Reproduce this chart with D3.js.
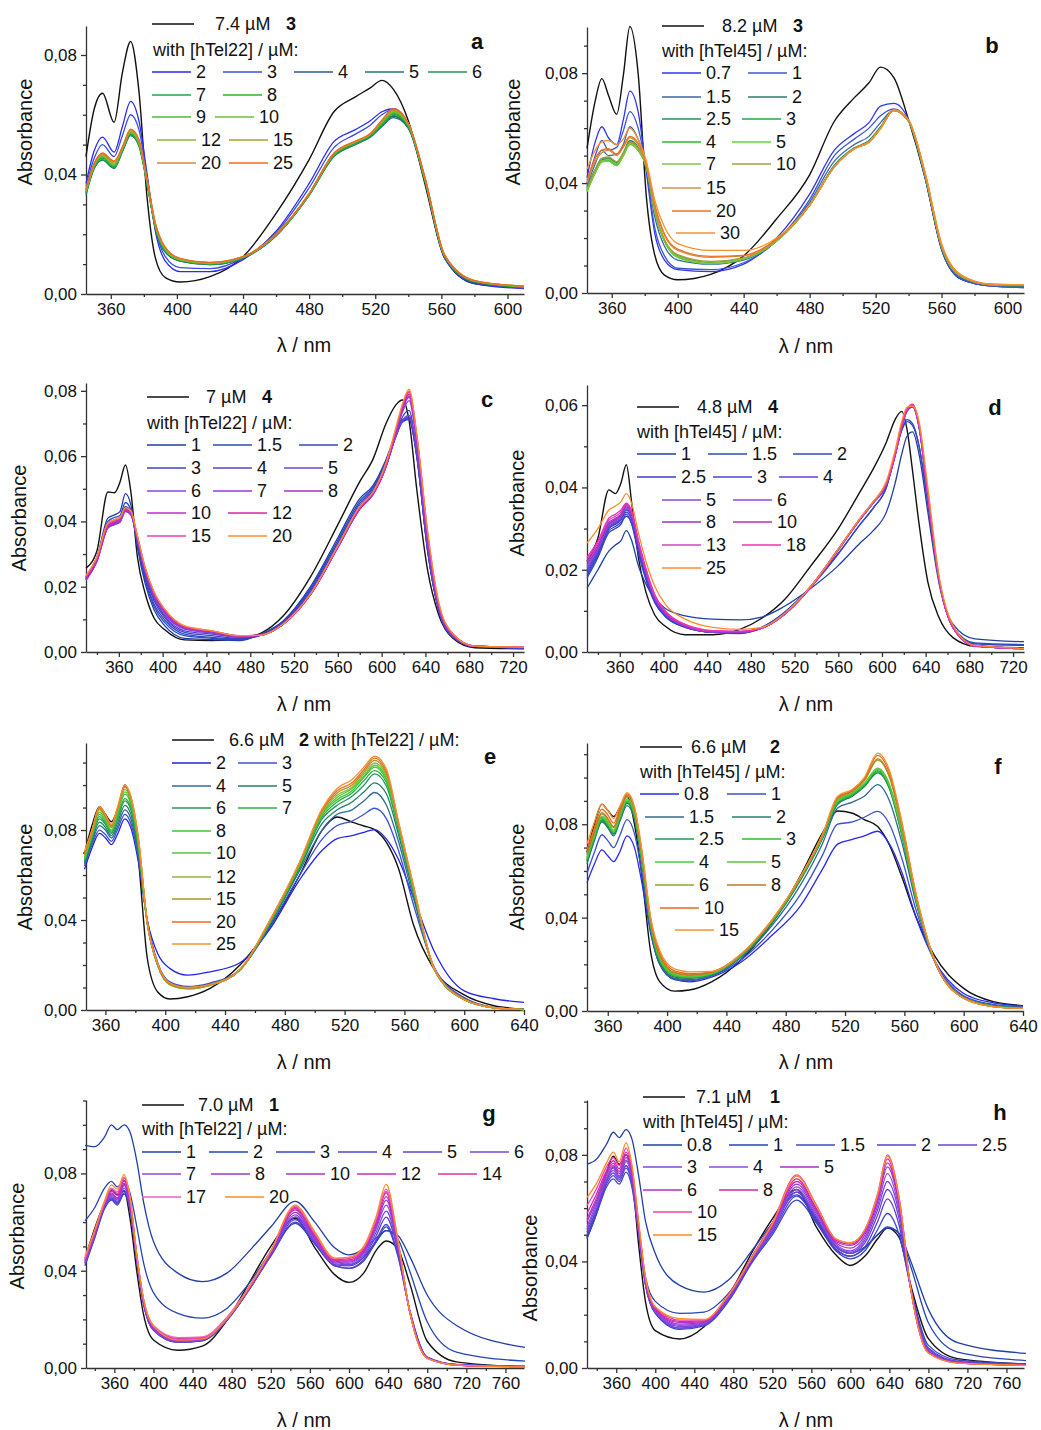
<!DOCTYPE html>
<html>
<head>
<meta charset="utf-8">
<script src="https://cdn.jsdelivr.net/npm/d3@7"></script>
<style>
  body { margin: 0; background: #fff; }
  svg { display: block; }
  text { font-family: "Liberation Sans", Arial, sans-serif; fill: #111; }
</style>
</head>
<body>
<svg id="chart" width="1041" height="1430"></svg>
<script>
// ---------- panel a : 3 + hTel22 ----------
const aWl = [345, 350, 355, 362, 367, 372, 377, 382, 387, 393, 402, 420, 440, 460, 480, 495, 508, 517, 524, 531, 540, 550, 562, 580, 610];
const aLabels = ["2", "3", "4", "5", "6", "7", "8", "9", "10", "12", "15", "20", "25"];
const aColors = ["#2a2af5", "#3b4fe0", "#2e5a98", "#1f7a6e", "#1e9556", "#22a444", "#2fb32f", "#48c030", "#6cc235", "#92b535", "#a9a22a", "#d08a3c", "#f06a20"];
const aBlack = [.046, .062, .0672, .0575, .074, .0845, .068, .032, .012, .0055, .004, .0058, .0125, .027, .045, .061, .066, .069, .0715, .0685, .058, .037, .012, .0035, .0022];
const aSeries = [
  [.037, .048, .0525, .0475, .056, .0645, .058, .040, .021, .011, .0075, .0075, .0115, .021, .037, .051, .055, .058, .061, .062, .0565, .038, .012, .0035, .0018],
  [.036, .0455, .050, .046, .053, .060, .055, .039, .022, .0125, .0088, .0085, .012, .0205, .0355, .049, .0535, .0565, .060, .0618, .0565, .038, .0122, .0038, .002],
  [.034, .0425, .046, .0425, .048, .0535, .050, .037, .022, .014, .011, .0098, .012, .0195, .0335, .0465, .0505, .053, .0565, .0595, .0555, .038, .0125, .004, .0022],
  [.033, .042, .0448, .042, .0475, .053, .0495, .0365, .022, .014, .011, .0098, .0122, .0195, .033, .046, .050, .0525, .056, .059, .0555, .038, .0125, .004, .0022],
  [.0335, .0422, .045, .0422, .0478, .0533, .0498, .037, .0222, .0142, .0112, .010, .0122, .0195, .033, .0462, .0502, .0528, .0565, .0598, .056, .0382, .0125, .0042, .0023],
  [.0338, .0425, .0455, .0425, .048, .0535, .050, .037, .0225, .0145, .0112, .010, .0122, .0196, .0332, .0464, .0504, .053, .0568, .0602, .0562, .0384, .0126, .0042, .0023],
  [.034, .0428, .0458, .0428, .0482, .0538, .0502, .0372, .0226, .0146, .0113, .0101, .0123, .0197, .0333, .0466, .0506, .0532, .057, .0605, .0564, .0385, .0127, .0043, .0024],
  [.0342, .043, .046, .043, .0485, .054, .0505, .0374, .0228, .0148, .0114, .0102, .0123, .0198, .0334, .0468, .0508, .0534, .0572, .0608, .0566, .0386, .0128, .0043, .0024],
  [.0344, .0432, .0462, .0432, .0487, .0542, .0507, .0376, .023, .015, .0115, .0103, .0124, .0199, .0335, .047, .051, .0535, .0575, .061, .0568, .0388, .0128, .0044, .0025],
  [.0346, .0433, .0465, .0435, .0488, .0545, .051, .0378, .0232, .0152, .0116, .0104, .0124, .020, .0335, .047, .051, .0535, .0577, .0612, .057, .039, .0129, .0044, .0025],
  [.0348, .0435, .0468, .0438, .049, .0548, .0512, .038, .0234, .0153, .0117, .0105, .0125, .020, .0335, .047, .051, .0535, .0578, .0615, .057, .039, .013, .0045, .0026],
  [.035, .0436, .047, .0442, .049, .055, .0515, .038, .0235, .0155, .0118, .0105, .0125, .020, .0335, .047, .051, .0535, .058, .0617, .057, .039, .013, .0045, .0026],
  [.0352, .0438, .0472, .0445, .0492, .0552, .0518, .0382, .0236, .0156, .0119, .0106, .0125, .020, .0336, .0472, .0512, .0537, .0582, .062, .0572, .0392, .0131, .0045, .0026]
];

// ---------- panel b : 3 + hTel45 ----------
const bWl = [345, 350, 354, 358, 363, 367, 371, 376, 381, 386, 392, 400, 420, 440, 460, 480, 495, 507, 516, 523, 531, 540, 550, 560, 572, 590, 610];
const bLabels = ["0.7", "1", "1.5", "2", "2.5", "3", "4", "5", "7", "10", "15", "20", "30"];
const bColors = ["#3333f2", "#3d56d4", "#3a6aa6", "#2a7f6a", "#24925a", "#22a642", "#25c025", "#60d630", "#86c44a", "#a4a036", "#d0924a", "#f0701e", "#f5922e"];
const bBlack = [.0526, .070, .078, .072, .065, .079, .097, .080, .035, .014, .0065, .0048, .0068, .0135, .027, .043, .0625, .071, .0765, .0822, .0785, .063, .042, .016, .005, .0028, .0025];
const bSeries = [
  [.042, .055, .0605, .0565, .054, .063, .0735, .066, .044, .022, .012, .0085, .0078, .0105, .020, .036, .052, .058, .062, .068, .069, .063, .042, .016, .005, .0025, .002],
  [.040, .050, .0555, .052, .053, .059, .066, .060, .045, .024, .0135, .009, .0085, .011, .019, .034, .050, .056, .060, .0645, .067, .0625, .042, .016, .005, .0025, .002],
  [.039, .047, .052, .050, .0505, .054, .0605, .056, .046, .028, .017, .012, .0105, .012, .019, .033, .048, .054, .057, .062, .0665, .0625, .0425, .0165, .0055, .0028, .0022],
  [.0385, .045, .049, .0492, .0475, .051, .0555, .053, .046, .030, .019, .0135, .011, .0125, .019, .032, .0465, .0528, .0555, .0605, .0665, .0625, .043, .017, .006, .003, .0026],
  [.038, .0445, .0485, .0488, .047, .0505, .055, .0525, .046, .030, .019, .0135, .011, .0125, .019, .032, .046, .0525, .055, .060, .0665, .0625, .043, .017, .006, .003, .0027],
  [.0375, .044, .048, .0485, .0468, .0502, .0545, .0522, .046, .030, .019, .0132, .0108, .0124, .019, .032, .046, .0525, .055, .060, .0665, .0625, .043, .017, .006, .003, .0027],
  [.037, .0438, .0478, .0482, .0465, .050, .0542, .052, .0458, .0298, .0188, .013, .0107, .0123, .019, .032, .046, .0525, .055, .060, .0665, .0625, .043, .017, .006, .003, .0028],
  [.0368, .0436, .0476, .048, .0463, .0498, .054, .0518, .0458, .0298, .0188, .013, .0107, .0123, .019, .032, .046, .0524, .0548, .0598, .0664, .0625, .043, .017, .006, .003, .0028],
  [.0375, .044, .048, .0486, .047, .0502, .0544, .0522, .046, .030, .019, .0133, .0109, .0125, .019, .032, .046, .0525, .055, .060, .0665, .0626, .0432, .017, .006, .003, .0028],
  [.038, .0448, .049, .0495, .0478, .051, .055, .0528, .0462, .0305, .0195, .014, .0115, .0128, .0192, .032, .046, .0525, .055, .060, .0665, .0627, .0433, .0172, .0062, .0031, .0029],
  [.040, .048, .051, .052, .050, .053, .0565, .054, .047, .032, .021, .0155, .013, .0135, .0195, .032, .046, .0525, .055, .060, .0666, .0628, .0435, .0175, .0063, .0031, .003],
  [.041, .049, .052, .0525, .0505, .0535, .057, .0545, .0472, .0325, .0215, .016, .0133, .0137, .0196, .032, .046, .0525, .055, .060, .0666, .0629, .0436, .0176, .0064, .0032, .003],
  [.045, .052, .055, .0555, .054, .056, .060, .056, .048, .034, .024, .018, .0155, .0155, .020, .032, .046, .0525, .055, .060, .0665, .063, .044, .018, .0065, .0032, .003]
];

// ---------- panel c : 4 + hTel22 ----------
const cWl = [330, 340, 350, 356, 361, 366, 371, 377, 384, 392, 402, 420, 445, 470, 490, 510, 535, 560, 580, 592, 604, 613, 619, 625, 632, 642, 652, 665, 685, 730];
const cLabels = ["1", "1.5", "2", "3", "4", "5", "6", "7", "8", "10", "12", "15", "20"];
const cColors = ["#1f3fa6", "#2a4abb", "#3446c4", "#3f42c9", "#5a40d2", "#7242da", "#8a44e0", "#9a3bd6", "#a832c4", "#c030c8", "#d823b2", "#f040b4", "#ff8c2a"];
const cBlack = [.0257, .031, .049, .0488, .052, .0573, .049, .029, .018, .0105, .0068, .0037, .0035, .0042, .0058, .011, .023, .039, .0522, .059, .070, .0757, .0772, .071, .050, .025, .0115, .0042, .0013, .001];
const cSeries = [
  [.023, .029, .041, .042, .043, .0485, .045, .032, .021, .013, .008, .0042, .0038, .0035, .0055, .0095, .020, .035, .047, .051, .059, .067, .0712, .0715, .060, .031, .013, .0045, .0017, .0012],
  [.0228, .0288, .040, .0412, .0418, .0458, .0435, .033, .022, .014, .009, .005, .0042, .0038, .0055, .0093, .0195, .0342, .0462, .0505, .0585, .067, .072, .074, .061, .031, .013, .0046, .0017, .0012],
  [.0226, .0285, .0395, .0405, .0412, .0445, .043, .0335, .0228, .0148, .0098, .0055, .0045, .004, .0052, .009, .019, .0335, .0455, .050, .058, .0665, .0705, .0712, .060, .031, .013, .0046, .0017, .0013],
  [.0224, .0282, .0388, .0398, .0405, .0438, .0425, .034, .0235, .0158, .0105, .006, .005, .0042, .0052, .0088, .0185, .033, .0448, .0495, .0575, .066, .0705, .0715, .0605, .0315, .0132, .0047, .0017, .0013],
  [.0222, .028, .0385, .0395, .0402, .0435, .0422, .0342, .024, .0165, .011, .0065, .0055, .0045, .0052, .0086, .018, .0325, .0442, .049, .057, .066, .0708, .072, .061, .032, .0134, .0048, .0018, .0013],
  [.022, .0278, .038, .039, .0398, .0432, .042, .0345, .0245, .017, .0115, .007, .0058, .0046, .0052, .0085, .0178, .0322, .044, .0485, .0568, .0662, .071, .0725, .0615, .0322, .0136, .0049, .0018, .0014],
  [.022, .0278, .038, .039, .0398, .043, .042, .0345, .0248, .0175, .012, .0072, .006, .0047, .0052, .0085, .0176, .032, .0438, .0482, .0568, .0668, .0735, .077, .064, .034, .014, .0052, .0018, .0014],
  [.0222, .028, .0382, .0392, .040, .0432, .0422, .0347, .025, .0177, .0122, .0074, .0061, .0048, .0052, .0085, .0176, .032, .0438, .0482, .0568, .067, .0742, .078, .0648, .0345, .0142, .0053, .0018, .0014],
  [.0224, .0282, .0384, .0394, .0402, .0434, .0424, .0348, .0252, .0178, .0124, .0075, .0062, .0048, .0052, .0085, .0176, .032, .0438, .0482, .0568, .0672, .0745, .0785, .0652, .035, .0144, .0053, .0018, .0014],
  [.0228, .0285, .0388, .0398, .0405, .0436, .0426, .035, .0254, .018, .0126, .0077, .0063, .0049, .0052, .0085, .0176, .0322, .044, .0484, .057, .0675, .0748, .079, .0658, .0355, .0146, .0054, .0018, .0015],
  [.023, .0288, .039, .040, .0408, .0438, .0428, .0352, .0256, .0182, .0128, .0078, .0064, .005, .0052, .0085, .0177, .0323, .0442, .0485, .0572, .0678, .0752, .0795, .0662, .036, .0148, .0055, .0018, .0015],
  [.0232, .029, .0392, .0402, .041, .044, .043, .0354, .0258, .0184, .013, .0079, .0065, .005, .0052, .0086, .0178, .0325, .0444, .0487, .0575, .0682, .0756, .080, .0666, .0365, .015, .0056, .0018, .0015],
  [.0235, .0292, .0395, .0405, .0412, .0442, .0432, .0356, .026, .0185, .0131, .008, .0065, .005, .0052, .0086, .0178, .0326, .0446, .049, .058, .0688, .076, .0805, .067, .037, .0155, .0056, .0018, .0015]
];

// ---------- panel d : 4 + hTel45 ----------
const dWl = [330, 340, 350, 356, 361, 366, 371, 377, 384, 392, 402, 420, 445, 470, 490, 510, 535, 560, 580, 592, 604, 612, 618, 623, 628, 634, 642, 652, 665, 685, 730];
const dLabels = ["1", "1.5", "2", "2.5", "3", "4", "5", "6", "8", "10", "13", "18", "25"];
const dColors = ["#1f3fa6", "#2a4abb", "#3446c4", "#3b3ecb", "#4a46d2", "#6440d8", "#8a46e0", "#9648e0", "#a032c2", "#b02cbc", "#d042c8", "#f030b0", "#ff8c28"];
const dBlack = [.022, .0277, .0394, .0385, .041, .0455, .036, .023, .0145, .009, .0062, .0042, .0042, .0055, .0082, .0125, .021, .030, .039, .0445, .051, .0565, .0585, .054, .044, .031, .017, .0085, .0035, .0014, .001];
const dSeries = [
  [.0155, .020, .0245, .026, .027, .0295, .027, .021, .0165, .013, .0105, .0088, .008, .0078, .0085, .011, .0155, .021, .0265, .0295, .034, .041, .048, .0525, .0535, .048, .034, .017, .0068, .0032, .0025],
  [.018, .023, .029, .030, .031, .0335, .031, .024, .0175, .012, .0085, .006, .0048, .0045, .006, .0095, .016, .024, .031, .035, .040, .048, .054, .0565, .0555, .050, .036, .018, .0062, .0022, .0018],
  [.0185, .0235, .0295, .0305, .0315, .033, .0312, .0245, .018, .0122, .0086, .006, .0048, .0046, .006, .0094, .0158, .0238, .031, .035, .040, .0478, .0538, .056, .055, .050, .036, .018, .006, .002, .0016],
  [.019, .024, .030, .031, .032, .034, .032, .0255, .0185, .0125, .0088, .0061, .0048, .0047, .0058, .009, .016, .025, .0322, .0362, .0405, .0478, .0548, .0585, .0595, .0545, .0375, .0178, .006, .0016, .0009],
  [.0195, .0245, .0302, .0312, .0322, .0345, .0325, .0258, .0187, .0127, .009, .0062, .0048, .0048, .0058, .009, .016, .025, .0324, .0364, .0408, .048, .055, .0588, .0598, .0548, .0378, .018, .006, .0016, .0009],
  [.020, .0248, .0305, .0315, .0325, .0348, .0328, .026, .019, .0128, .0091, .0062, .0048, .0048, .0058, .009, .016, .025, .0325, .0365, .041, .048, .055, .059, .060, .055, .038, .018, .006, .0015, .0008],
  [.0205, .025, .0308, .0318, .0328, .035, .033, .0262, .0192, .013, .0092, .0063, .0049, .0048, .0058, .009, .0158, .0248, .0323, .0363, .0408, .0478, .0548, .0588, .0598, .0548, .0378, .0178, .006, .0015, .0008],
  [.021, .0252, .031, .032, .033, .0352, .0332, .0264, .0194, .0131, .0093, .0063, .0049, .0048, .0058, .009, .0158, .0248, .0323, .0363, .0408, .0478, .0548, .0588, .0598, .0548, .0378, .0178, .006, .0015, .0008],
  [.0215, .0255, .0312, .0322, .0332, .0355, .0335, .0266, .0196, .0133, .0094, .0064, .005, .0049, .0058, .009, .0158, .0248, .0323, .0363, .0408, .0478, .0548, .0588, .060, .055, .038, .018, .006, .0015, .0008],
  [.022, .026, .0315, .0325, .0335, .0358, .0338, .0268, .0198, .0135, .0095, .0065, .005, .0049, .0058, .009, .0158, .0248, .0323, .0363, .0408, .0478, .0548, .0588, .060, .055, .038, .018, .006, .0015, .0008],
  [.0225, .0265, .032, .033, .034, .036, .034, .027, .020, .0137, .0097, .0066, .0051, .005, .0058, .009, .0158, .0248, .0324, .0364, .041, .048, .055, .059, .0602, .0552, .0382, .0182, .006, .0015, .0008],
  [.023, .027, .0325, .0335, .0345, .0362, .0342, .0272, .0202, .014, .0099, .0067, .0052, .005, .0058, .009, .0158, .0248, .0324, .0364, .041, .048, .055, .059, .0602, .0552, .0382, .0182, .006, .0015, .0008],
  [.0265, .030, .0345, .0355, .0365, .0385, .036, .029, .022, .016, .0115, .008, .006, .0055, .006, .0092, .016, .025, .0325, .0365, .0415, .049, .056, .0595, .0598, .056, .040, .019, .0065, .0016, .0009]
];

// ---------- panel e : 2 + hTel22 ----------
const eWl = [346, 351, 356, 360, 364, 368, 373, 377, 382, 388, 395, 403, 415, 430, 450, 470, 490, 505, 515, 525, 533, 540, 548, 556, 566, 580, 600, 620, 640];
const eLabels = ["2", "3", "4", "5", "6", "7", "8", "10", "12", "15", "20", "25"];
const eColors = ["#2222ee", "#3b4ed4", "#2f6a98", "#23806a", "#23985a", "#28b044", "#38c832", "#55c830", "#8cb83a", "#b0902a", "#f06a1e", "#f59030"];
const eBlack = [.0696, .082, .0904, .087, .0837, .089, .100, .092, .0674, .023, .008, .0049, .0059, .0096, .020, .037, .060, .080, .0858, .0835, .0818, .0802, .0745, .063, .038, .018, .0067, .0019, .0004];
const eSeries = [
  [.0625, .072, .0785, .0765, .0735, .078, .085, .081, .066, .040, .025, .0185, .0155, .017, .021, .036, .058, .071, .0762, .0775, .079, .0802, .076, .067, .050, .026, .0085, .005, .0034],
  [.064, .0735, .080, .078, .075, .080, .087, .083, .068, .040, .021, .0125, .0105, .012, .018, .037, .060, .076, .082, .084, .087, .0897, .085, .071, .047, .019, .0055, .0012, .0003],
  [.0648, .0745, .082, .080, .0765, .0815, .089, .085, .069, .039, .020, .012, .010, .0115, .018, .038, .062, .080, .087, .089, .093, .0967, .091, .075, .050, .0185, .005, .0011, .0003],
  [.0655, .0755, .0835, .0812, .0775, .083, .091, .087, .0705, .039, .020, .0118, .0098, .0113, .0178, .038, .063, .083, .089, .0925, .097, .101, .096, .078, .052, .018, .0048, .001, .0002],
  [.066, .0765, .085, .0825, .0785, .0845, .093, .089, .072, .0385, .0198, .0116, .0097, .0112, .0178, .0385, .0635, .085, .091, .095, .100, .105, .0995, .080, .053, .018, .0047, .001, .0002],
  [.0665, .077, .086, .0833, .079, .0855, .094, .090, .0728, .0385, .0198, .0115, .0096, .0111, .0178, .0388, .064, .086, .0925, .0965, .102, .1064, .101, .081, .0535, .018, .0046, .001, .0002],
  [.067, .0775, .087, .084, .0795, .0865, .096, .0915, .074, .0385, .0198, .0114, .0095, .011, .0178, .039, .0645, .087, .0935, .0975, .1035, .108, .102, .0815, .054, .018, .0046, .001, .0002],
  [.0675, .078, .088, .0848, .080, .0875, .097, .0925, .075, .0385, .0198, .0113, .0094, .011, .0178, .0392, .065, .0875, .0945, .0985, .104, .1088, .103, .082, .054, .018, .0046, .001, .0002],
  [.068, .0785, .089, .0855, .081, .0885, .098, .0935, .0755, .0385, .0199, .0114, .0095, .011, .0179, .0395, .0652, .088, .0955, .099, .105, .1098, .104, .0825, .0545, .018, .0046, .001, .0002],
  [.069, .079, .0895, .086, .0815, .089, .099, .0942, .076, .0387, .020, .0115, .0096, .0111, .018, .0397, .0655, .0885, .0965, .100, .106, .111, .105, .083, .055, .0182, .0046, .001, .0002],
  [.0698, .0795, .090, .0865, .082, .0895, .0995, .0948, .0765, .0388, .0202, .0117, .0098, .0112, .018, .0398, .0658, .089, .0975, .101, .107, .112, .106, .0835, .0552, .0183, .0047, .001, .0002],
  [.0705, .080, .0905, .087, .0825, .090, .100, .095, .077, .039, .0205, .012, .010, .0113, .0181, .040, .066, .0895, .0985, .1025, .108, .1128, .107, .084, .0555, .0185, .0047, .001, .0002]
];

// ---------- panel f : 2 + hTel45 ----------
const fWl = [346, 351, 356, 360, 364, 368, 373, 378, 383, 389, 395, 405, 415, 430, 450, 470, 490, 505, 515, 525, 533, 542, 550, 558, 568, 580, 600, 620, 640];
const fLabels = ["0.8", "1", "1.5", "2", "2.5", "3", "4", "5", "6", "8", "10", "15"];
const fColors = ["#2a2af0", "#3a50cc", "#2f6b94", "#238068", "#229a48", "#2bbf2b", "#40d040", "#66c03a", "#88aa2a", "#c07a20", "#f0651e", "#f59232"];
const fBlack = [.068, .080, .0886, .086, .0833, .087, .092, .080, .058, .025, .0126, .0085, .009, .0125, .022, .037, .058, .0765, .0857, .0847, .082, .079, .071, .058, .040, .024, .0097, .004, .0023];
const fSeries = [
  [.055, .063, .069, .0665, .064, .068, .075, .070, .055, .033, .020, .0135, .0125, .0145, .021, .032, .045, .061, .0715, .0735, .075, .077, .0715, .060, .040, .022, .0075, .0035, .0022],
  [.059, .068, .0755, .073, .070, .075, .082, .076, .059, .034, .020, .0135, .013, .015, .022, .034, .050, .067, .080, .081, .083, .0855, .080, .066, .043, .022, .0065, .0028, .0018],
  [.063, .073, .081, .0785, .075, .081, .088, .082, .063, .035, .0205, .014, .0135, .0152, .023, .036, .054, .072, .087, .0895, .092, .097, .090, .073, .046, .022, .006, .0025, .0015],
  [.064, .0735, .0815, .079, .0758, .0815, .089, .083, .064, .0355, .021, .0145, .014, .0155, .0235, .037, .056, .074, .0885, .092, .096, .102, .095, .076, .047, .022, .0058, .0022, .0013],
  [.0645, .074, .082, .0795, .076, .082, .0895, .0835, .0645, .036, .0215, .015, .0142, .0157, .0237, .0375, .0565, .0745, .089, .0925, .0965, .1025, .0955, .0765, .0472, .022, .0057, .0021, .0012],
  [.065, .0745, .0825, .080, .0765, .0825, .090, .084, .065, .0365, .022, .0152, .0144, .0158, .0238, .0378, .0568, .0748, .0895, .093, .097, .103, .096, .077, .0475, .022, .0056, .002, .0012],
  [.0655, .075, .083, .0805, .077, .083, .0905, .0845, .0655, .037, .0225, .0155, .0146, .016, .024, .038, .057, .075, .090, .0932, .0972, .1035, .0965, .0775, .0478, .022, .0055, .002, .0011],
  [.066, .0755, .0835, .081, .0775, .0835, .091, .085, .066, .0375, .023, .0158, .0148, .0162, .0241, .0381, .0571, .0752, .0905, .0935, .0975, .104, .097, .078, .048, .022, .0055, .0019, .0011],
  [.067, .0765, .0845, .082, .0785, .0845, .092, .086, .067, .038, .0235, .0162, .0152, .0164, .0242, .0382, .0572, .0754, .091, .094, .0985, .1075, .100, .080, .049, .0222, .0055, .0019, .0011],
  [.0675, .077, .085, .0825, .079, .085, .0925, .0865, .0675, .0385, .024, .0165, .0155, .0166, .0243, .0383, .0574, .0756, .0912, .0942, .099, .108, .1005, .0805, .0492, .0222, .0055, .0019, .0011],
  [.069, .0785, .0865, .084, .0805, .0862, .093, .087, .068, .039, .025, .0172, .016, .0168, .0244, .0384, .0575, .0758, .0915, .0945, .0995, .1095, .102, .0815, .0495, .0223, .0055, .0019, .0011],
  [.0715, .081, .0885, .086, .0825, .0875, .0935, .0875, .069, .040, .026, .018, .0168, .017, .0245, .0385, .0576, .076, .092, .095, .100, .1105, .103, .082, .050, .0225, .0055, .0019, .0011]
];

// ---------- panel g : 1 + hTel22 ----------
const gWl = [330, 340, 350, 357, 363, 370, 376, 383, 390, 400, 425, 450, 475, 500, 520, 545, 565, 585, 600, 615, 628, 638, 650, 662, 680, 710, 780];
const gLabels = ["1", "2", "3", "4", "5", "6", "7", "8", "10", "12", "14", "17", "20"];
const gColors = ["#1f3fa6", "#2545b0", "#3548c2", "#4a44cc", "#6040d4", "#7848dc", "#8c4ae0", "#9c38cc", "#b030c8", "#cc2cbc", "#e0309c", "#f060c0", "#ff8a24"];
const gBlack = [.045, .0575, .0678, .0729, .0712, .0729, .0616, .0396, .0217, .0115, .0073, .009, .0195, .0365, .050, .0616, .0495, .0385, .0352, .039, .0485, .0522, .049, .035, .011, .0025, .0004];
const gSeries = [
  [.0915, .091, .095, .100, .098, .100, .097, .085, .068, .052, .039, .0355, .039, .049, .058, .0685, .060, .0495, .0465, .049, .0535, .0565, .0545, .046, .030, .0175, .0085],
  [.0605, .066, .074, .0767, .0745, .077, .072, .058, .043, .031, .0225, .0205, .0245, .036, .048, .062, .054, .0445, .0425, .0455, .052, .0565, .053, .040, .019, .0065, .0028],
  [.042, .0535, .0655, .069, .067, .0715, .065, .044, .026, .0155, .0105, .0112, .0195, .0335, .046, .0595, .051, .042, .041, .044, .052, .058, .046, .024, .0045, .0015, .0008],
  [.0425, .054, .066, .0695, .0675, .072, .0655, .0442, .0262, .0156, .0106, .0113, .0196, .0336, .0462, .060, .0512, .0422, .041, .0445, .0528, .059, .0465, .0238, .0044, .0014, .0007],
  [.043, .0545, .0665, .070, .068, .073, .066, .0445, .0264, .0157, .0107, .0114, .0197, .0337, .0465, .061, .0518, .0425, .042, .0455, .0545, .062, .048, .0237, .0043, .0014, .0007],
  [.0432, .0548, .0668, .0705, .0685, .074, .0665, .0448, .0266, .0158, .0108, .0115, .0198, .0338, .0467, .062, .0522, .0428, .0425, .0462, .056, .0645, .049, .0236, .0042, .0013, .0006],
  [.0435, .055, .067, .071, .069, .075, .067, .045, .0268, .016, .011, .0116, .0199, .034, .047, .063, .0528, .0432, .043, .047, .0575, .067, .050, .0235, .0042, .0013, .0006],
  [.0438, .0552, .0672, .0715, .0695, .0755, .0675, .0452, .027, .0162, .0112, .0118, .020, .034, .0472, .064, .0533, .0436, .0435, .0475, .0585, .069, .0505, .0235, .0041, .0012, .0006],
  [.044, .0555, .0675, .072, .070, .076, .068, .0455, .0272, .0165, .0115, .012, .0202, .0342, .0475, .065, .054, .044, .044, .048, .0595, .0705, .051, .0234, .0041, .0012, .0006],
  [.0442, .0558, .0678, .0728, .071, .077, .0688, .0458, .0275, .0168, .0118, .0122, .0204, .0344, .0478, .0655, .0545, .0443, .0445, .0485, .0605, .072, .0515, .0234, .004, .0012, .0005],
  [.0445, .056, .068, .0735, .0718, .078, .0695, .046, .0278, .0172, .0122, .0125, .0206, .0346, .048, .066, .055, .0446, .045, .049, .061, .0725, .052, .0234, .004, .0012, .0005],
  [.045, .0562, .0682, .074, .0725, .0785, .070, .0462, .028, .0175, .0125, .0128, .0208, .0348, .0482, .0665, .0555, .045, .0455, .0495, .0615, .0735, .0522, .0234, .004, .0012, .0005],
  [.046, .0568, .0688, .0753, .0735, .0795, .0705, .0465, .0282, .0172, .0115, .012, .0202, .0345, .048, .067, .056, .0452, .0455, .050, .0625, .0755, .053, .0234, .004, .0012, .0005]
];

// ---------- panel h : 1 + hTel45 ----------
const hWl = [330, 340, 350, 357, 363, 370, 376, 383, 390, 400, 425, 450, 475, 500, 520, 545, 565, 585, 600, 615, 628, 638, 650, 662, 680, 710, 780];
const hLabels = ["0.8", "1", "1.5", "2", "2.5", "3", "4", "5", "6", "8", "10", "15"];
const hColors = ["#1f3fa6", "#2545b8", "#3a48c8", "#5440d2", "#6a44d8", "#7e46de", "#9048e0", "#a036c8", "#b830c4", "#d02aa8", "#f040b0", "#ff8a24"];
const hBlack = [.049, .0584, .0733, .0795, .0764, .080, .072, .046, .0248, .014, .0109, .0155, .027, .044, .056, .067, .053, .0425, .0385, .042, .0485, .0525, .049, .031, .011, .0035, .0015];
const hSeries = [
  [.0765, .0785, .084, .0885, .0865, .0895, .086, .072, .055, .043, .031, .0285, .033, .0445, .0545, .066, .056, .0455, .043, .0455, .050, .0525, .0505, .040, .022, .0095, .0055],
  [.049, .059, .070, .0755, .072, .076, .070, .052, .034, .025, .0205, .021, .028, .042, .054, .065, .055, .0445, .042, .045, .050, .053, .0505, .038, .017, .006, .0028],
  [.0485, .058, .068, .071, .069, .0735, .068, .050, .031, .0205, .0145, .0158, .025, .040, .050, .063, .0545, .044, .041, .044, .052, .058, .050, .030, .0085, .003, .0015],
  [.050, .059, .069, .0722, .070, .075, .069, .0505, .0312, .0207, .015, .0162, .0255, .0405, .0508, .0645, .0555, .0448, .042, .0455, .055, .0635, .0535, .030, .0075, .0025, .0013],
  [.051, .060, .070, .0732, .0708, .076, .070, .051, .0315, .021, .015, .0164, .026, .041, .0515, .066, .0565, .0455, .043, .047, .0575, .067, .056, .0295, .007, .0023, .0012],
  [.052, .061, .0708, .0742, .0715, .0775, .0712, .0515, .0318, .0212, .0155, .0166, .0262, .0412, .052, .067, .0572, .046, .0435, .048, .0595, .070, .058, .0295, .0065, .0022, .0011],
  [.053, .062, .0715, .075, .072, .078, .072, .052, .032, .0215, .016, .0168, .0265, .0415, .0525, .068, .058, .0465, .044, .049, .061, .073, .0595, .0295, .0062, .002, .001],
  [.055, .063, .0725, .076, .073, .079, .0728, .0525, .0323, .0218, .0165, .0171, .0268, .0418, .053, .069, .0588, .047, .045, .050, .0625, .0755, .061, .0295, .006, .002, .001],
  [.056, .064, .0732, .0768, .0738, .080, .0735, .053, .0326, .022, .017, .0174, .027, .042, .0535, .070, .0595, .0475, .046, .051, .0635, .077, .062, .0295, .0058, .0019, .001],
  [.058, .0655, .074, .0778, .0748, .081, .0742, .0535, .033, .0223, .0175, .0177, .0272, .0422, .054, .071, .060, .048, .0465, .0515, .0645, .0785, .063, .0295, .0057, .0019, .001],
  [.061, .0675, .0755, .079, .076, .0825, .075, .054, .0335, .0228, .018, .018, .0275, .0425, .0545, .0725, .0612, .0485, .047, .052, .0655, .080, .064, .0295, .0056, .0019, .001],
  [.064, .0695, .077, .081, .0775, .0845, .0765, .0548, .034, .023, .0185, .0182, .0273, .042, .054, .072, .061, .0485, .047, .052, .065, .0795, .0635, .0295, .0056, .0018, .001]
];

// tick values
const xTicksAB = [360, 400, 440, 480, 520, 560, 600];
const xMinorAB = [380, 420, 460, 500, 540, 580];
const xTicksCD = [360, 400, 440, 480, 520, 560, 600, 640, 680, 720];
const xMinorCD = [340, 380, 420, 460, 500, 540, 580, 620, 660, 700];
const xTicksEF = [360, 400, 440, 480, 520, 560, 600, 640];
const xMinorEF = [380, 420, 460, 500, 540, 580, 620];
const xTicksGH = [360, 400, 440, 480, 520, 560, 600, 640, 680, 720, 760];
const xMinorGH = [340, 380, 420, 460, 500, 540, 580, 620, 660, 700, 740, 780];
const yTicks4 = [0, 0.04, 0.08];
const yTicks2 = [0, 0.02, 0.04, 0.06, 0.08];

// layout of the eight panels
const panels = [
  { letter: "a", wl: aWl, black: aBlack, series: aSeries, labels: aLabels, colors: aColors,
    box: [86, 524, 26, 294], xd: [345, 610], xt: xTicksAB, xm: xMinorAB, yd: [0, 0.0897], yt: yTicks4, ystep: 0.01,
    ylab: [25, 132], xlab: [304, 345], lpos: [477, 41],
    head: { x: 152, y: 24, tx: 215, bx: 286, conc: "7.4 µM", cmpd: "3", tail: "" },
    withPos: [153, 50], withText: "with [hTel22] / µM:",
    rows: [[72, [152, 223, 294, 365, 428]], [95, [152, 223]], [117, [152, 215]], [140, [157, 229]], [163, [157, 229]]] },
  { letter: "b", wl: bWl, black: bBlack, series: bSeries, labels: bLabels, colors: bColors,
    box: [587, 1024, 27, 293], xd: [345, 610], xt: xTicksAB, xm: xMinorAB, yd: [0, 0.0968], yt: yTicks4, ystep: 0.01,
    ylab: [513, 132], xlab: [806, 346], lpos: [992, 45],
    head: { x: 662, y: 26, tx: 722, bx: 793, conc: "8.2 µM", cmpd: "3", tail: "" },
    withPos: [662, 51], withText: "with [hTel45] / µM:",
    rows: [[73, [662, 748]], [97, [662, 748]], [119, [662, 742]], [142, [662, 732]], [164, [662, 732]], [188, [662]], [211, [672]], [233, [676]]] },
  { letter: "c", wl: cWl, black: cBlack, series: cSeries, labels: cLabels, colors: cColors,
    box: [86, 524, 383, 652], xd: [330, 730], xt: xTicksCD, xm: xMinorCD, yd: [0, 0.0824], yt: yTicks2, ystep: 0.01,
    ylab: [19, 518], xlab: [304, 704], lpos: [487, 399],
    head: { x: 147, y: 397, tx: 206, bx: 262, conc: "7 µM", cmpd: "4", tail: "" },
    withPos: [147, 423], withText: "with [hTel22] / µM:",
    rows: [[445, [147, 213, 299]], [468, [147, 213, 284]], [491, [147, 213, 284]], [513, [147, 228]], [536, [147, 228]]] },
  { letter: "d", wl: dWl, black: dBlack, series: dSeries, labels: dLabels, colors: dColors,
    box: [587, 1024, 385, 652], xd: [330, 730], xt: xTicksCD, xm: xMinorCD, yd: [0, 0.0649], yt: yTicks2, ystep: 0.01,
    ylab: [517, 503], xlab: [806, 704], lpos: [995, 407],
    head: { x: 637, y: 407, tx: 697, bx: 768, conc: "4.8 µM", cmpd: "4", tail: "" },
    withPos: [637, 432], withText: "with [hTel45] / µM:",
    rows: [[454, [637, 708, 793]], [477, [637, 713, 779]], [500, [662, 733]], [522, [662, 733]], [545, [662, 742]], [568, [662]]] },
  { letter: "e", wl: eWl, black: eBlack, series: eSeries, labels: eLabels, colors: eColors,
    box: [86, 524, 743, 1010], xd: [347, 640], xt: xTicksEF, xm: xMinorEF, yd: [0, 0.1187], yt: yTicks4, ystep: 0.01,
    ylab: [25, 877], xlab: [304, 1062], lpos: [490, 756],
    head: { x: 172, y: 740, tx: 229, bx: 299, conc: "6.6 µM", cmpd: "2", tail: " with [hTel22] / µM:" },
    withPos: null, withText: "",
    rows: [[763, [172, 238]], [786, [172, 238]], [808, [172, 238]], [831, [172]], [853, [172]], [877, [172]], [899, [172]], [922, [172]], [944, [172]]] },
  { letter: "f", wl: fWl, black: fBlack, series: fSeries, labels: fLabels, colors: fColors,
    box: [587, 1023, 743, 1011], xd: [346, 640], xt: xTicksEF, xm: xMinorEF, yd: [0, 0.1148], yt: yTicks4, ystep: 0.01,
    ylab: [517, 877], xlab: [806, 1062], lpos: [998, 766],
    head: { x: 640, y: 747, tx: 691, bx: 770, conc: "6.6 µM", cmpd: "2", tail: "" },
    withPos: [640, 772], withText: "with [hTel45] / µM:",
    rows: [[794, [640, 727]], [817, [645, 732]], [839, [655, 742]], [862, [655, 727]], [885, [655, 727]], [908, [660]], [930, [675]]] },
  { letter: "g", wl: gWl, black: gBlack, series: gSeries, labels: gLabels, colors: gColors,
    box: [86, 524, 1100, 1368], xd: [331, 779], xt: xTicksGH, xm: xMinorGH, yd: [0, 0.1102], yt: yTicks4, ystep: 0.01,
    ylab: [17, 1236], xlab: [304, 1420], lpos: [489, 1113],
    head: { x: 142, y: 1105, tx: 198, bx: 269, conc: "7.0 µM", cmpd: "1", tail: "" },
    withPos: [142, 1129], withText: "with [hTel22] / µM:",
    rows: [[1152, [142, 209, 276, 338, 403, 470]], [1174, [142, 211, 286, 357, 438]], [1197, [142, 225]]] },
  { letter: "h", wl: hWl, black: hBlack, series: hSeries, labels: hLabels, colors: hColors,
    box: [587, 1024, 1100, 1368], xd: [330, 778], xt: xTicksGH, xm: xMinorGH, yd: [0, 0.1006], yt: yTicks4, ystep: 0.01,
    ylab: [530, 1268], xlab: [806, 1420], lpos: [1000, 1112],
    head: { x: 643, y: 1097, tx: 696, bx: 770, conc: "7.1 µM", cmpd: "1", tail: "" },
    withPos: [643, 1122], withText: "with [hTel45] / µM:",
    rows: [[1145, [643, 729, 796, 877, 938]], [1167, [643, 709, 780]], [1190, [643, 719]], [1212, [653]], [1235, [653]]] }
];

const svg = d3.select("#chart");
svg.append("rect").attr("width", 1041).attr("height", 1430).attr("fill", "#fff");

const comma = d => d3.format(".2f")(d).replace(".", ",");
const axisColor = "#333";
const segLen = 39;
const inside = (v, dom) => v >= dom[0] - 1e-9 && v <= dom[1] + 1e-9;

panels.forEach(p => {
  const [l, r, t, b] = p.box;
  const x = d3.scaleLinear().domain(p.xd).range([l, r]);
  const y = d3.scaleLinear().domain(p.yd).range([b, t]);
  const g = svg.append("g");

  // only ticks that fall inside the axis range
  const xt = p.xt.filter(v => inside(v, p.xd));
  const xm = p.xm.filter(v => inside(v, p.xd));
  const yt = p.yt.filter(v => inside(v, p.yd));
  const ym = d3.range(p.ystep, p.yd[1] + 1e-9, p.ystep).filter(v => !yt.some(m => Math.abs(m - v) < 1e-6));

  // minor ticks
  g.append("g").attr("class", "minor").attr("transform", `translate(0,${b})`)
    .call(d3.axisBottom(x).tickValues(xm).tickSize(3).tickFormat(""));
  g.append("g").attr("class", "minor").attr("transform", `translate(${l},0)`)
    .call(d3.axisLeft(y).tickValues(ym).tickSize(3).tickFormat(""));
  g.selectAll(".minor .domain").remove();

  // major axes
  g.append("g").attr("transform", `translate(0,${b})`)
    .call(d3.axisBottom(x).tickValues(xt).tickSize(5).tickSizeOuter(0).tickPadding(4).tickFormat(d3.format("d")));
  g.append("g").attr("transform", `translate(${l},0)`)
    .call(d3.axisLeft(y).tickValues(yt).tickSize(5).tickSizeOuter(0).tickPadding(4).tickFormat(comma));
  g.selectAll("path, line").attr("stroke", axisColor).attr("stroke-width", 1.3);
  g.selectAll(".tick text").attr("font-size", 17).attr("fill", "#111")
    .attr("font-family", '"Liberation Sans", Arial, sans-serif');

  // axis titles
  g.append("text").attr("x", p.xlab[0]).attr("y", p.xlab[1]).attr("text-anchor", "middle")
    .attr("dominant-baseline", "central").attr("font-size", 20).text("λ / nm");
  g.append("text").attr("transform", `translate(${p.ylab[0]},${p.ylab[1]}) rotate(-90)`)
    .attr("text-anchor", "middle").attr("dominant-baseline", "central").attr("font-size", 20).text("Absorbance");

  // spectra
  const line = d3.line()
    .defined((d, i) => d != null && i < p.wl.length)
    .x((d, i) => x(p.wl[i]))
    .y(d => y(d))
    .curve(d3.curveMonotoneX);

  g.append("path").attr("d", line(p.black)).attr("fill", "none")
    .attr("stroke", "#111").attr("stroke-width", 1.4);
  g.selectAll("path.spec").data(p.series).enter().append("path")
    .attr("class", "spec")
    .attr("d", d => line(d))
    .attr("fill", "none")
    .attr("stroke", (d, i) => p.colors[i])
    .attr("stroke-width", 1.3);

  // panel letter
  g.append("text").attr("x", p.lpos[0]).attr("y", p.lpos[1]).attr("text-anchor", "middle")
    .attr("dominant-baseline", "central").attr("font-size", 22).attr("font-weight", "bold").text(p.letter);

  // legend header
  const h = p.head;
  g.append("line").attr("x1", h.x).attr("x2", h.x + 42).attr("y1", h.y).attr("y2", h.y)
    .attr("stroke", "#111").attr("stroke-width", 1.4);
  const ht = g.append("text").attr("y", h.y).attr("dominant-baseline", "central")
    .attr("font-size", 18).style("white-space", "pre");
  ht.append("tspan").attr("x", h.tx).text(h.conc);
  ht.append("tspan").attr("x", h.bx).attr("font-weight", "bold").text(h.cmpd);
  if (h.tail) ht.append("tspan").text(h.tail);
  if (p.withPos) {
    g.append("text").attr("x", p.withPos[0]).attr("y", p.withPos[1]).attr("dominant-baseline", "central")
      .attr("font-size", 18).text(p.withText);
  }

  // legend entries, in the order of the series
  const items = [];
  p.rows.forEach(([ry, xs]) => xs.forEach(sx => items.push({ ry, sx })));
  items.forEach((it, i) => {
    if (i >= p.labels.length) return;
    g.append("line").attr("x1", it.sx).attr("x2", it.sx + segLen).attr("y1", it.ry).attr("y2", it.ry)
      .attr("stroke", p.colors[i]).attr("stroke-width", 1.5);
    g.append("text").attr("x", it.sx + segLen + 5).attr("y", it.ry).attr("dominant-baseline", "central")
      .attr("font-size", 18).text(p.labels[i]);
  });
});
</script>
</body>
</html>
